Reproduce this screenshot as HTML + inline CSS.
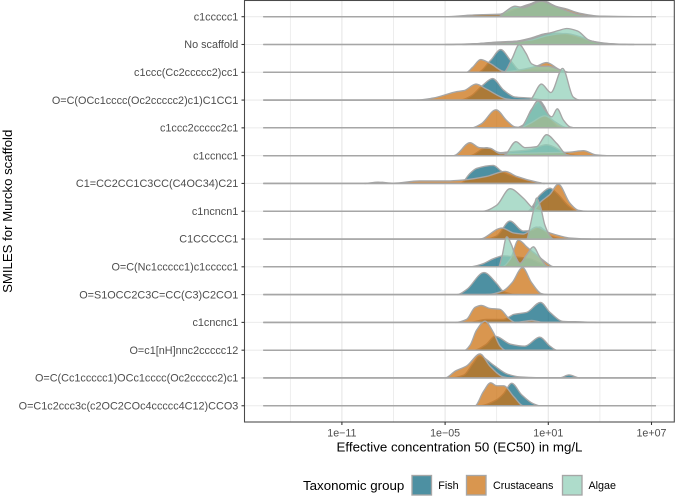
<!DOCTYPE html>
<html lang="en">
<head>
<meta charset="utf-8">
<title>EC50 ridgeline chart</title>
<style>
html,body{margin:0;padding:0;background:#fff;width:675px;height:502px;overflow:hidden}
svg{display:block;font-family:"Liberation Sans",Arial,sans-serif;filter:blur(0.3px)}
</style>
</head>
<body>
<svg id="chart" xmlns="http://www.w3.org/2000/svg" width="675" height="502" viewBox="0 0 675 502"></svg>
<script>
const categories = ["c1ccccc1","No scaffold","c1ccc(Cc2ccccc2)cc1","O=C(OCc1cccc(Oc2ccccc2)c1)C1CC1","c1ccc2ccccc2c1","c1ccncc1","C1=CC2CC1C3CC(C4OC34)C21","c1ncncn1","C1CCCCC1","O=C(Nc1ccccc1)c1ccccc1","O=S1OCC2C3C=CC(C3)C2CO1","c1cncnc1","O=c1[nH]nnc2ccccc12","O=C(Cc1ccccc1)OCc1cccc(Oc2ccccc2)c1","O=C1c2ccc3c(c2OC2COc4ccccc4C12)CCO3"];
const xTickExponents = [-11,-5,1,7];
const xTickLabels = ["1e\u221211","1e\u221205","1e+01","1e+07"];
const xMinorExponents = [-14,-8,-2,4];
const seriesNames = ["Fish","Crustaceans","Algae"];
/* Each row: [log10 EC50, ridge density] pairs */
const fishCurves = [
[[-4.5,0],[-3.5,1.5],[-2.5,2.2],[-1.8,2.5],[-1,7],[0,13],[0.6,15],[1.5,10],[2.5,3],[3.5,0.7],[6,0]],
[[-5,0],[-3,1],[-2,2],[-1,3],[0,6.5],[0.7,10.3],[1.1,11.5],[1.8,11],[2.8,7],[3.5,3.5],[4.5,1],[6,0]],
[[-3.1,0],[-2.35,12],[-1.77,22.7],[-1.2,12],[-0.65,2],[0.5,2],[1.8,1.5],[2.2,0]],
[[-4.1,0],[-3.5,4],[-2.8,15],[-2.24,21.5],[-1.6,10],[-0.94,3],[-0.07,2],[0.9,0]],
[[-0.9,0],[-0.45,3],[0,18],[0.5,27],[0.75,22],[1.1,10],[1.6,1],[2,0]],
[[-3.55,0],[-2.6,8],[-1.8,3],[-1.2,4],[-0.07,6],[0.9,11],[1.9,3.5],[2.26,1],[2.8,0]],
[[-4.1,0],[-3.55,10],[-3.17,15],[-2.2,18],[-1.7,12],[-0.84,6],[0.3,1],[0.8,0]],
[[-0.2,0],[0.5,16],[1.1,23],[1.5,18],[2.2,5],[2.7,0]],
[[-2.6,0],[-2,3],[-1.23,18],[-0.45,8],[0.13,9],[0.5,12],[1.1,3],[1.9,0]],
[[-3.55,0],[-2.8,3],[-2.2,8],[-1.6,11],[-1,10],[-0.07,8],[0.5,4],[1.1,0]],
[[-4.3,0],[-3.75,5],[-2.74,22],[-2,11],[-1.6,3],[-0.8,0]],
[[-3.6,0],[-2.6,3],[-1.6,3],[-1,8],[-0.26,10],[0.55,20],[1.1,10],[1.87,1],[3,0.5],[3.8,0]],
[[-3.3,0],[-2.6,6],[-2.1,14],[-1.9,13],[-1.2,6],[-0.36,4],[0.5,13],[1.1,4],[1.5,0]],
[[-4.7,0],[-3.9,3],[-3.4,14],[-3,22],[-2.2,13],[-1.4,4],[-0.65,1],[0.3,0.3],[1.68,0.3],[2.2,3],[2.85,0]],
[[-3,0],[-2,6],[-1.6,12],[-1.13,22.5],[-0.55,11],[0.13,2],[0.5,0]]
];
const crustaceanCurves = [
[[-5,0],[-3.5,1.5],[-2.5,2],[-1.9,2],[-1,9],[-0.45,10],[0.6,16.5],[1.5,10],[2,8],[2.8,3.5],[4,0.5],[6.5,0]],
[[-5,0],[-3,1],[-2,2.5],[-1,3.2],[0,4.5],[1,9],[2,11],[3,7],[3.5,3.5],[4.5,0.8],[6,0]],
[[-3.75,0],[-3.4,5],[-2.93,12.7],[-2.4,9],[-1.5,0.5],[-1,1.5],[-0.45,3],[0.3,6],[0.9,9.7],[1.6,3],[2,0]],
[[-6.65,0],[-5.7,2],[-4.3,8.5],[-3.9,9.5],[-3.2,16],[-2.6,11],[-1.4,1],[-0.85,0]],
[[-3.45,0],[-2.9,4],[-2.04,18],[-1.4,7],[-0.94,1],[-0.6,0.5],[0,5],[0.8,12],[1.4,6],[2,0.5],[2.6,0]],
[[-4.5,0],[-3.55,13],[-3,8],[-2.4,7.5],[-1.8,2],[-0.5,2.5],[1,3],[2.26,3.5],[3.03,5],[3.8,0.7],[4.4,0]],
[[-9.7,0],[-8.9,1.3],[-8,0.3],[-6.5,2.5],[-4.9,2.5],[-3.9,3.5],[-2.6,7],[-1.5,12],[-0.84,7],[0.3,1.5],[0.8,0]],
[[0,0],[0.6,10],[1.1,17],[1.58,27],[2.26,8],[2.74,1],[3.3,0]],
[[-3,0],[-1.7,11],[-1,6],[-0.45,5],[0.32,12],[1.1,6],[1.7,3],[2.26,1],[3.5,0]],
[[-1.7,0],[-1.2,8],[-0.74,26.7],[-0.55,25],[-0.26,20],[0.32,12],[0.9,4],[1.3,0]],
[[-2.6,0],[-1.6,4],[-1.1,12],[-0.5,27],[0.03,12],[0.6,1],[0.95,0]],
[[-4.4,0],[-3.75,3],[-3.26,15],[-2.9,17],[-2.4,14],[-1.8,13],[-1.3,4],[-0.9,0],[0.03,2],[0.7,0]],
[[-3.85,0],[-3.55,5],[-3.17,20],[-2.68,29],[-2.2,18],[-1.8,4],[-1.5,0]],
[[-5,0],[-4.4,7],[-3.75,12],[-2.97,24],[-2.4,12],[-1.6,1],[-1.2,0]],
[[-3.26,0],[-2.78,14],[-2.35,23],[-2,20],[-1.6,20],[-1,9],[-0.45,0]]
];
const algaeCurves = [
[[-1.9,0],[-1.5,5],[-0.94,10.5],[-0.45,9],[0.6,15.5],[1.3,11],[1.9,7],[2.8,2],[3.8,0]],
[[-4,0],[-2.5,1],[-1,2.2],[0,5.5],[0.6,9],[1.1,11.5],[1.6,14],[2.07,16],[2.7,13.5],[3.4,4],[4.4,0.8],[5.5,0]],
[[-1.6,0],[-1.1,14],[-0.69,27.7],[-0.3,19],[0.03,8.5],[0.5,6],[1,6],[1.6,3],[2.1,0]],
[[-0.1,0],[0.6,16],[1.15,7.5],[1.83,31.7],[2.45,3],[2.8,0]],
[[-0.65,0],[-0.07,15],[0.4,27],[0.8,18],[1.2,11],[1.52,19],[1.87,8],[2.26,1],[2.6,0]],
[[-1.6,0],[-0.88,14],[-0.36,8],[0.32,9],[0.9,21],[1.5,12],[2.07,1],[2.45,0]],
[],
[[-2.8,0],[-2,6],[-1.23,22.5],[-0.45,13],[0.13,3],[0.7,0]],
[[-0.26,0],[-0.07,12],[0.13,28],[0.32,41],[0.55,32],[0.8,14],[1.1,3],[1.3,0]],
[[-1.9,0],[-1.7,10],[-1.42,30],[-1.14,22],[-0.9,10],[-0.65,3.5],[-0.26,12],[0.13,20],[0.5,10],[0.9,1],[1.1,0]],
[],
[],
[],
[],
[]
];
const seriesCurves = [fishCurves, crustaceanCurves, algaeCurves];

const svg = document.getElementById('chart');
const NS = 'http://www.w3.org/2000/svg';
const panel = {left:244.5, right:674.3, top:0.5, bottom:422};
const colorFill = ['#116b83','#cc7314','#93d0b9'];
const fillAlpha = 0.75;
const lineGray = '#a6a6a6';
const lineWidth = 1.35;
const domainMin = -15.57, domainMax = 7.26;

function xScale(v){ return 548.3 + (v - 1) * 17.2; }
function yBase(i){ return 16.7 + i * 27.79; }
function yScale(i, d){ return yBase(i) - d; }

function add(tag, attrs, parent, text){
  const el = document.createElementNS(NS, tag);
  for (const k in attrs) el.setAttribute(k, attrs[k]);
  if (text !== undefined) el.textContent = text;
  (parent || svg).appendChild(el);
  return el;
}

function curvePath(pts){
  const n = pts.length;
  const d = [], m = new Array(n).fill(0);
  for (let i = 0; i < n - 1; i++) d[i] = (pts[i+1][1] - pts[i][1]) / (pts[i+1][0] - pts[i][0]);
  for (let i = 1; i < n - 1; i++){
    if (d[i-1] * d[i] <= 0) { m[i] = 0; continue; }
    const h0 = pts[i][0] - pts[i-1][0], h1 = pts[i+1][0] - pts[i][0];
    m[i] = 3 * (h0 + h1) / ((2*h1 + h0) / d[i-1] + (h1 + 2*h0) / d[i]);
  }
  let s = 'M' + pts[0][0].toFixed(2) + ' ' + pts[0][1].toFixed(2);
  for (let i = 0; i < n - 1; i++){
    const h = (pts[i+1][0] - pts[i][0]) / 3;
    s += 'C' + (pts[i][0]+h).toFixed(2) + ' ' + (pts[i][1]+m[i]*h).toFixed(2) + ' ' +
         (pts[i+1][0]-h).toFixed(2) + ' ' + (pts[i+1][1]-m[i+1]*h).toFixed(2) + ' ' +
         pts[i+1][0].toFixed(2) + ' ' + pts[i+1][1].toFixed(2);
  }
  return s;
}

/* gridlines */
xMinorExponents.forEach(function(e){
  const g = add('line',{x1:xScale(e),x2:xScale(e),y1:panel.top,y2:panel.bottom,stroke:'#e6e6e6','stroke-width':0.7});
  
  
});
xTickExponents.forEach(function(e){
  const g = add('line',{x1:xScale(e),x2:xScale(e),y1:panel.top,y2:panel.bottom,stroke:'#e8e8e8','stroke-width':1.2});
  
  
});
categories.forEach(function(c,i){
  const g = add('line',{x1:panel.left,x2:panel.right,y1:yBase(i),y2:yBase(i),stroke:'#ebebeb','stroke-width':1.07});
  
  
});

/* ridges: upper rows first so lower rows overlap them */
categories.forEach(function(c,i){
  const row = add('g',{});
  
  
  seriesCurves.forEach(function(curves,s){
    const raw = curves[i];
    if (!raw.length) {
      const flat = add('line',{x1:xScale(domainMin),x2:xScale(domainMax),y1:yBase(i),y2:yBase(i),stroke:lineGray,'stroke-width':lineWidth},row);
      
      
      return;
    }
    const pts = raw.map(function(p){ return [xScale(p[0]), yScale(i,p[1])]; });
    const top = curvePath(pts);
    const area = add('path',{d: top + 'L' + pts[pts.length-1][0].toFixed(2) + ' ' + yBase(i).toFixed(2) + 'L' + pts[0][0].toFixed(2) + ' ' + yBase(i).toFixed(2) + 'Z', fill: colorFill[s], 'fill-opacity': fillAlpha}, row);
    
    
    const base = add('line',{x1:xScale(domainMin),x2:xScale(domainMax),y1:yBase(i),y2:yBase(i),stroke:lineGray,'stroke-width':lineWidth},row);
    
    
    const line = add('path',{d: top, fill:'none', stroke: lineGray, 'stroke-width':lineWidth, 'stroke-linejoin':'round'}, row);
    
    
  });
});

/* panel border */
const border = add('rect',{x:panel.left,y:panel.top,width:panel.right-panel.left,height:panel.bottom-panel.top,fill:'none',stroke:'#4a4a4a','stroke-width':1.07});



/* y axis */
categories.forEach(function(c,i){
  const t = add('line',{x1:panel.left-3,x2:panel.left,y1:yBase(i),y2:yBase(i),stroke:'#333','stroke-width':1.07});
  
  
  const l = add('text',{x:238.3,y:yBase(i)+3.7,'text-anchor':'end','font-size':10.85,fill:'#4d4d4d'},svg,c);
  
  
});
const yTitle = add('text',{transform:'translate(12.2,211.3) rotate(-90)','text-anchor':'middle','font-size':13.2,fill:'#000'},svg,'SMILES for Murcko scaffold');



/* x axis */
xTickExponents.forEach(function(e,i){
  const t = add('line',{x1:xScale(e),x2:xScale(e),y1:panel.bottom,y2:panel.bottom+3,stroke:'#333','stroke-width':1.07});
  
  
  const l = add('text',{x:xScale(e),y:436.5,'text-anchor':'middle','font-size':10.7,fill:'#4d4d4d'},svg,xTickLabels[i]);
  
  
});
const xTitle = add('text',{x:459.5,y:451.5,'text-anchor':'middle','font-size':13.3,fill:'#000'},svg,'Effective concentration 50 (EC50) in mg/L');



/* legend */
const legendTitle = add('text',{x:303,y:490,'font-size':13.3,fill:'#000'},svg,'Taxonomic group');


const legendKeyX = [412,466.5,562.5];
const legendTextX = [438.3,493,588.5];
seriesNames.forEach(function(n,s){
  const bg = add('rect',{x:legendKeyX[s],y:475.5,width:19.5,height:19.5,fill:colorFill[s],'fill-opacity':fillAlpha,stroke:lineGray,'stroke-width':lineWidth});
  
  
  const t = add('text',{x:legendTextX[s],y:489,'font-size':10.75,fill:'#000'},svg,n);
  
  
});
</script>
</body>
</html>
